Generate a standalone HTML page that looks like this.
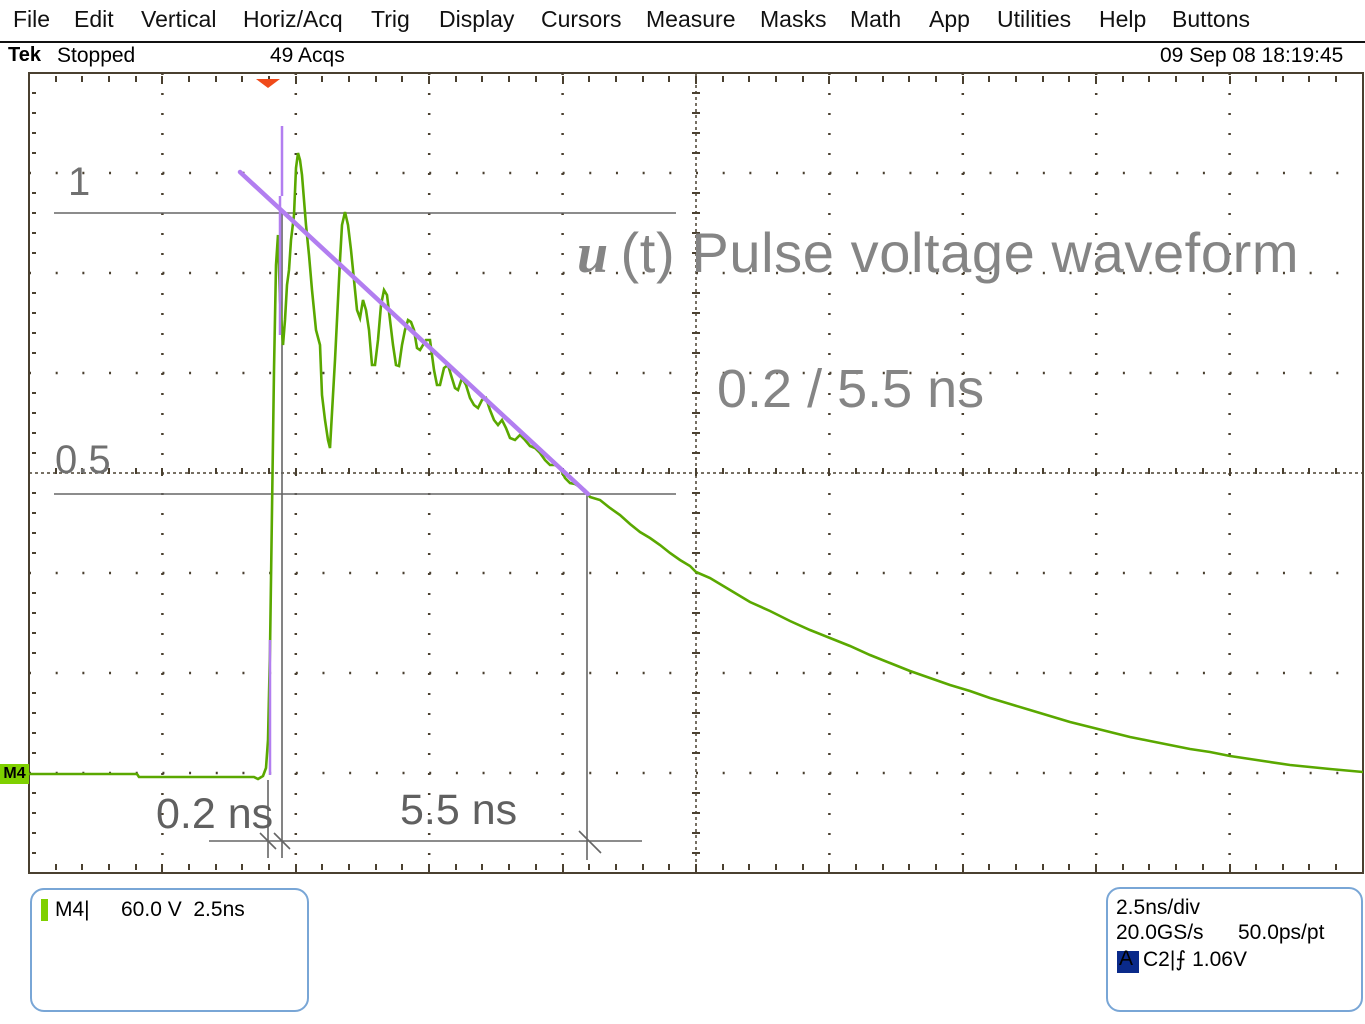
<!DOCTYPE html>
<html><head><meta charset="utf-8"><style>
body{margin:0;width:1365px;height:1024px;background:#fff;overflow:hidden;font-family:"Liberation Sans",sans-serif;position:relative}
.menu{position:absolute;top:6px;left:0;font-size:23px;color:#111;white-space:nowrap}
.menu span{position:absolute}
.t{position:absolute;white-space:nowrap}
.panel{position:absolute;border:2px solid #79a6d6;border-radius:14px;background:#fff}
</style></head><body>
<div class="menu">
<span style="left:13px">File</span><span style="left:74px">Edit</span><span style="left:141px">Vertical</span><span style="left:243px">Horiz/Acq</span><span style="left:371px">Trig</span><span style="left:439px">Display</span><span style="left:541px">Cursors</span><span style="left:646px">Measure</span><span style="left:760px">Masks</span><span style="left:850px">Math</span><span style="left:929px">App</span><span style="left:997px">Utilities</span><span style="left:1099px">Help</span><span style="left:1172px">Buttons</span>
</div>
<div style="position:absolute;left:0;top:41px;width:1365px;height:2px;background:#111"></div>
<div class="t" style="left:8px;top:44px;font-size:20px;font-weight:bold">Tek</div>
<div class="t" style="left:57px;top:44px;font-size:21px">Stopped</div>
<div class="t" style="left:270px;top:44px;font-size:21px">49 Acqs</div>
<div class="t" style="left:1160px;top:44px;font-size:21px">09 Sep 08 18:19:45</div>

<svg width="1365" height="1024" style="position:absolute;left:0;top:0" xmlns="http://www.w3.org/2000/svg">
<g stroke="#4a4030" stroke-width="2.5" fill="none">
<g stroke-dasharray="2 18">
<line x1="162.4" y1="73" x2="162.4" y2="873"/><line x1="295.8" y1="73" x2="295.8" y2="873"/><line x1="429.2" y1="73" x2="429.2" y2="873"/><line x1="562.6" y1="73" x2="562.6" y2="873"/>
<line x1="829.4" y1="73" x2="829.4" y2="873"/><line x1="962.8" y1="73" x2="962.8" y2="873"/><line x1="1096.2" y1="73" x2="1096.2" y2="873"/><line x1="1229.6" y1="73" x2="1229.6" y2="873"/>
</g>
<g stroke-dasharray="2 24.68">
<line x1="29" y1="173" x2="1363" y2="173"/><line x1="29" y1="273" x2="1363" y2="273"/><line x1="29" y1="373" x2="1363" y2="373"/>
<line x1="29" y1="573" x2="1363" y2="573"/><line x1="29" y1="673" x2="1363" y2="673"/><line x1="29" y1="773" x2="1363" y2="773"/>
</g>
<line x1="29" y1="473" x2="1363" y2="473" stroke-dasharray="3 3" stroke-width="1.5"/>
<line x1="696" y1="73" x2="696" y2="873" stroke-dasharray="3 3" stroke-width="1.5"/>
<path d="M29 73V873H1363V73Z" stroke-width="2"/>
</g>
<g stroke="#4a4030" stroke-width="2">
<path id="tk" d="M56 76v6M82 76v6M109 76v6M136 76v6M162 76v8M189 76v6M216 76v6M242 76v6M269 76v6M296 76v8M322 76v6M349 76v6M376 76v6M402 76v6M429 76v8M456 76v6M482 76v6M509 76v6M536 76v6M563 76v8M589 76v6M616 76v6M643 76v6M669 76v6M696 76v8M723 76v6M749 76v6M776 76v6M803 76v6M829 76v8M856 76v6M883 76v6M909 76v6M936 76v6M963 76v8M989 76v6M1016 76v6M1043 76v6M1069 76v6M1096 76v8M1123 76v6M1149 76v6M1176 76v6M1203 76v6M1230 76v8M1256 76v6M1283 76v6M1309 76v6M1336 76v6"/>
<use href="#tk" y="788"/>
<use href="#tk" y="392"/>
<path d="M32 93h4M32 113h4M32 133h4M32 153h4M32 193h4M32 213h4M32 233h4M32 253h4M32 293h4M32 313h4M32 333h4M32 353h4M32 393h4M32 413h4M32 433h4M32 453h4M32 493h4M32 513h4M32 533h4M32 553h4M32 593h4M32 613h4M32 633h4M32 653h4M32 693h4M32 713h4M32 733h4M32 753h4M32 793h4M32 813h4M32 833h4M32 853h4"/>
<path d="M692 93h8M692 113h8M692 133h8M692 153h8M692 193h8M692 213h8M692 233h8M692 253h8M692 293h8M692 313h8M692 333h8M692 353h8M692 393h8M692 413h8M692 433h8M692 453h8M692 493h8M692 513h8M692 533h8M692 553h8M692 593h8M692 613h8M692 633h8M692 653h8M692 693h8M692 713h8M692 733h8M692 753h8M692 793h8M692 813h8M692 833h8M692 853h8"/>
</g>
<g stroke="#666" stroke-width="1.6" fill="none">
<line x1="54" y1="213" x2="676" y2="213"/><line x1="54" y1="494" x2="676" y2="494"/>
<line x1="282" y1="213" x2="282" y2="858"/><line x1="587" y1="494" x2="587" y2="860"/>
<line x1="268" y1="780" x2="268" y2="858"/>
<line x1="209" y1="841" x2="642" y2="841"/>
<path d="M260 833l16 16M274 833l16 16M579 831l22 22"/>
</g>
<path d="M256 79h24l-12 9z" fill="#f04a1a"/>
<polyline fill="none" stroke="#5aa800" stroke-width="2.6" stroke-linejoin="miter" points="29,774 137,774 139,777 254,777 258,779 263,776 266,768 268,740 270,650 272,510 274,370 276,265 278,235 280,300 283,345 285,320 287,285 289,270 291,240 294,215 296,168 298,153 300,160 302,175 304,200 306,225 309,255 312,290 316,330 320,345 322,395 325,420 328,440 330,448 333,395 335,360 338,300 340,260 342,225 345,212 348,225 351,250 354,280 357,310 360,318 363,300 366,310 369,330 372,365 375,365 378,340 381,305 384,290 387,295 390,320 393,345 396,365 399,366 402,345 405,330 408,320 411,322 414,330 417,348 420,350 423,345 426,340 430,340 434,370 437,385 440,385 444,368 448,365 451,375 455,388 458,390 462,378 466,385 470,398 474,405 478,408 482,400 486,398 490,410 494,420 498,425 502,420 506,428 510,438 515,440 520,435 525,440 530,446 535,448 540,453 545,460 550,465 555,465 560,468 565,478 570,483 575,484 580,487 585,490 590,497 600,500 610,508 620,515 630,524 640,532 650,538 660,545 670,553 680,560 690,566 696,572 710,578 730,590 750,602 770,611 790,621 810,630 830,638 850,646 870,655 890,663 910,671 930,678 950,685 970,691 990,698 1010,704 1030,710 1050,716 1070,722 1090,727 1110,732 1130,737 1150,741 1170,745 1190,749 1210,752 1230,756 1250,759 1270,762 1290,765 1310,767 1330,769 1363,772"/>
<line x1="240" y1="172" x2="588" y2="494" stroke="#b27ef0" stroke-width="4.5" stroke-linecap="round"/>
<path d="M282 126V196M280 196V335M270 640V775" stroke="#b27ef0" stroke-width="2.5" fill="none"/>
</svg>

<div class="t" style="left:0;top:764px;width:29px;height:20px;background:#7fd000;font-size:16px;font-weight:bold;line-height:20px;text-align:center">M4</div>

<div class="t" style="left:68px;top:160px;font-size:40px;color:#707070">1</div>
<div class="t" style="left:55px;top:438px;font-size:40px;color:#707070">0.5</div>
<div class="t" style="left:577px;top:220px;font-size:56px;letter-spacing:0.6px;color:#858585"><i style="font-family:'Liberation Serif',serif;font-weight:bold">u</i>&thinsp;(t) Pulse voltage waveform</div>
<div class="t" style="left:717px;top:358px;font-size:54px;color:#858585">0.2 / 5.5 ns</div>
<div class="t" style="left:156px;top:790px;font-size:43px;color:#606060">0.2 ns</div>
<div class="t" style="left:400px;top:786px;font-size:43px;color:#606060">5.5 ns</div>

<div class="panel" style="left:30px;top:888px;width:275px;height:120px"></div>
<div class="t" style="left:41px;top:899px;width:7px;height:22px;background:#7fd000"></div>
<div class="t" style="left:55px;top:898px;font-size:21px">M4|</div>
<div class="t" style="left:121px;top:898px;font-size:21px">60.0 V&nbsp;&nbsp;2.5ns</div>

<div class="panel" style="left:1106px;top:887px;width:253px;height:121px"></div>
<div class="t" style="left:1116px;top:896px;font-size:21px">2.5ns/div</div>
<div class="t" style="left:1116px;top:921px;font-size:21px">20.0GS/s</div>
<div class="t" style="left:1238px;top:921px;font-size:21px">50.0ps/pt</div>
<div class="t" style="left:1117px;top:951px;width:22px;height:22px;background:#0a2a8a"></div>
<div class="t" style="left:1119px;top:947px;font-size:21px">A</div>
<div class="t" style="left:1143px;top:947px;font-size:21px">C2|&#x2A0D; 1.06V</div>
</body></html>
